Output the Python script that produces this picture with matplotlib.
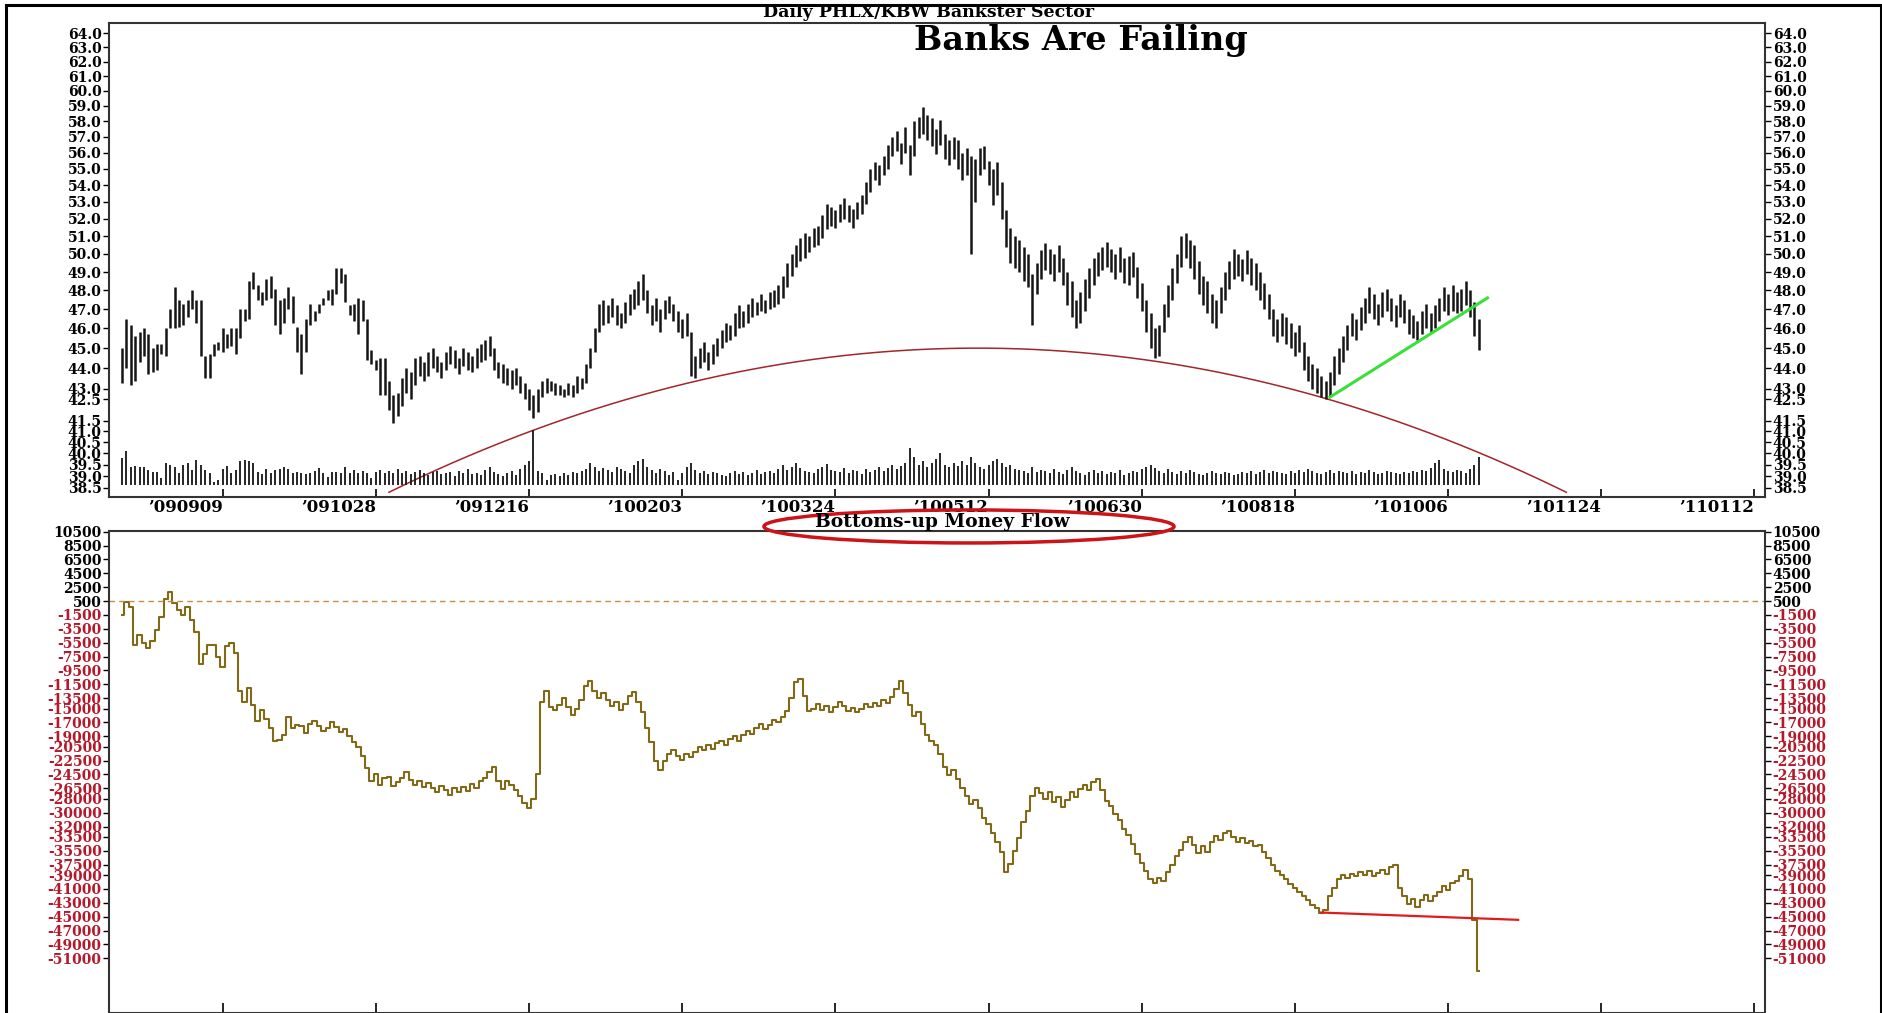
import numpy as np
import pandas as pd
import matplotlib.pyplot as plt
import matplotlib.ticker as mticker
from matplotlib.patches import Ellipse, Rectangle

plt.rcParams['font.family'] = 'DejaVu Serif'
plt.rcParams['font.weight'] = 'bold'

# ---- data (one bar per weekday) ----
first_day = '2009-08-07'
origin_day = '2009-09-09'

highs = [
    45.0, 46.5, 46.2, 45.6, 45.8, 46.0, 45.7, 45.0, 45.2, 45.2,
    46.0, 47.0, 48.2, 47.5, 47.3, 47.5, 48.0, 47.5, 47.5, 44.6,
    44.7, 45.2, 45.3, 46.0, 45.7, 46.0, 46.0, 47.0, 47.0, 48.5,
    49.0, 48.3, 47.9, 48.6, 48.8, 48.1, 47.5, 47.6, 48.2, 47.7,
    46.1, 45.7, 46.5, 47.3, 46.9, 47.3, 47.6, 48.0, 48.1, 49.2,
    49.2, 48.9, 47.2, 47.3, 47.6, 47.5, 46.5, 44.9, 44.4, 44.5,
    44.5, 43.4, 42.7, 42.8,
    43.5, 44.0, 43.8, 44.5, 44.6, 44.3, 44.8, 45.0, 44.6, 44.3,
    44.8, 45.1, 44.9, 44.5, 45.0, 44.8, 44.6, 45.0, 45.2, 45.4,
    45.6, 45.0, 44.3, 44.2, 44.0, 43.9, 44.0, 43.6, 43.3, 43.0,
    42.7, 43.0, 43.4, 43.5, 43.4, 43.3, 43.2, 43.0, 43.3, 43.2,
    43.6, 43.5, 44.2, 45.0, 46.0, 47.3, 47.5, 47.2, 47.6, 47.2,
    46.8, 47.4, 47.8, 48.1, 48.5, 48.9, 48.0, 47.2, 47.6, 47.0,
    47.5, 47.7, 47.3, 46.9, 46.5, 46.8, 45.8, 44.6, 45.0, 45.3,
    44.8, 45.2, 45.5, 45.9, 46.3, 46.2, 46.8, 47.2, 46.9, 47.3,
    47.6, 47.4, 47.8, 47.5, 47.9, 48.0, 48.3, 48.8, 49.5, 50.0,
    50.5, 50.9, 51.2, 51.0, 51.5, 51.6, 52.2, 52.9, 52.7, 52.5,
    52.9, 53.2, 52.8, 52.6, 53.0, 53.4, 54.2, 55.0, 55.4, 55.2,
    55.8, 56.5, 57.0, 57.4, 56.6, 57.6, 56.5, 58.0, 58.3, 58.9,
    58.4, 58.2, 57.5, 58.1, 57.2, 56.8, 57.0, 56.8, 56.0, 56.3,
    55.8, 55.6, 56.3, 56.4, 55.5, 55.0, 55.4, 54.2, 52.5, 51.5,
    51.0, 50.8, 50.4, 50.0, 48.9, 49.5, 50.2, 50.6, 50.3, 50.0,
    50.5, 49.8, 49.0, 48.5, 47.5, 47.9, 48.6, 49.2, 49.8, 50.1,
    50.4, 50.7, 50.3, 50.0, 50.4, 49.8, 49.9, 50.1, 49.3, 48.4,
    47.5, 46.8, 46.0, 46.2, 47.3, 48.3, 49.2, 50.0, 51.0, 51.2,
    50.8, 50.5, 49.6, 48.8, 48.5, 47.8, 47.5, 48.2, 49.0, 49.6,
    50.3, 50.0, 49.7, 50.2, 49.8, 49.5, 49.0, 48.4, 47.8, 47.0,
    46.5, 46.8, 46.6, 46.3, 45.8, 46.2, 45.3, 44.6, 44.2, 44.0,
    43.6, 43.4, 43.8, 44.6, 45.0, 45.6, 46.2, 46.8, 46.5, 47.1,
    47.6, 48.2, 47.8, 47.3, 47.9, 48.1, 47.6, 47.2, 47.8, 47.5,
    47.0, 46.7, 46.4, 46.9, 47.3, 46.8, 47.2, 47.6, 48.2, 47.8,
    48.3, 47.9, 48.1, 48.5, 48.0, 47.4, 46.5,
]

lows = [
    43.3, 44.0, 43.2, 43.4, 44.3, 44.6, 43.7, 43.8, 43.9, 44.7,
    44.6, 46.0, 46.0, 46.1, 46.2, 46.6, 47.0, 46.3, 44.6, 43.5,
    43.5, 44.6, 44.9, 44.8, 45.0, 45.1, 44.7, 45.5, 46.4, 46.5,
    48.1, 47.5, 47.2, 47.5, 47.6, 46.2, 45.7, 46.3, 47.0, 46.3,
    44.8, 43.7, 44.8, 46.2, 46.4, 46.8, 47.2, 47.5, 47.2, 47.8,
    48.4, 47.4, 46.7, 46.4, 45.7, 46.4, 44.4, 44.2, 43.9, 42.7,
    42.7, 42.0, 41.4, 41.7,
    42.2, 42.8, 42.5, 43.2, 43.6, 43.4, 43.6, 44.0, 43.8, 43.5,
    43.9, 44.2, 44.0, 43.7, 44.1, 43.9, 43.8, 44.0, 44.3, 44.4,
    44.6, 43.9, 43.5, 43.3, 43.2, 43.0, 43.2, 42.8, 42.5, 42.0,
    41.6, 41.9, 42.6, 42.8, 42.9, 42.7, 42.7, 42.6, 42.7, 42.6,
    42.8, 43.0, 43.3, 44.0, 44.8, 45.8, 46.2, 46.3, 46.6, 46.2,
    46.0, 46.3, 46.7, 47.0, 47.2, 47.5, 46.8, 46.2, 46.4, 45.8,
    46.5, 46.8, 46.4, 45.8, 45.5, 45.6, 43.6, 43.5, 44.0, 44.3,
    43.9, 44.2, 44.6, 45.0, 45.3, 45.4, 45.6, 46.0, 46.1, 46.3,
    46.6, 46.7, 46.9, 46.8, 47.0, 47.1, 47.3, 47.6, 48.2, 48.8,
    49.3, 49.6, 49.8, 50.1, 50.4, 50.5, 50.9, 51.4, 51.6, 51.5,
    51.8, 52.0, 51.8, 51.5, 52.0, 52.3, 52.9, 53.6, 54.3, 54.0,
    54.6, 55.0, 55.8, 56.1, 55.3, 56.0, 54.6, 55.8, 56.9, 57.2,
    56.8, 56.4, 55.9, 56.5, 55.6, 55.2, 55.6, 55.0, 54.3, 54.6,
    50.0, 53.0, 54.6, 55.0, 54.0, 52.8, 53.4, 52.0, 50.4, 49.5,
    49.2, 49.0, 48.5, 48.2, 46.2, 47.8, 48.6, 49.1, 48.9, 48.5,
    49.0, 48.3, 47.2, 46.6, 46.0, 46.3, 46.9, 47.6, 48.3, 48.8,
    49.1, 49.3, 49.0, 48.6, 49.0, 48.4, 48.3, 48.7, 47.6, 46.9,
    45.8, 45.0, 44.5, 44.6, 45.8, 46.6, 47.5, 48.4, 49.3, 49.8,
    49.2, 48.6, 47.8, 47.2, 46.8, 46.3, 46.0, 46.8, 47.5, 48.1,
    48.6, 48.8, 48.5, 48.9, 48.3, 48.0, 47.5, 47.0, 46.5, 45.6,
    45.3, 45.6, 45.2, 45.0, 44.6, 44.8, 43.9, 43.4, 43.0, 42.8,
    42.6, 42.5, 42.6, 43.2, 43.7, 44.3, 44.9, 45.6, 45.4, 45.9,
    46.3, 46.8, 46.5, 46.2, 46.6, 46.9, 46.4, 46.1, 46.6, 46.3,
    45.7, 45.5, 45.4, 45.7, 46.0, 45.8, 46.0, 46.4, 46.9, 46.7,
    46.9, 46.8, 46.9, 47.2, 46.6, 45.6, 44.9,
]

volume = [
    27, 34, 18, 19, 18, 18, 15, 13, 13, 7,
    22, 20, 18, 12, 20, 22, 15, 25, 20, 15,
    12, 3, 5, 16, 19, 12, 15, 24, 25, 24,
    22, 13, 11, 16, 12, 15, 16, 18, 16, 12,
    13, 12, 11, 12, 14, 17, 12, 8, 13, 13,
    12, 18, 12, 15, 12, 14, 12, 7, 13, 15,
    12, 14, 12, 16,
    12, 14, 11, 13, 15, 12, 10, 13, 14, 11,
    12, 13, 9, 14, 12, 16, 11, 12, 10, 15,
    18, 13, 11, 9, 12, 14, 10, 16, 20, 24,
    55, 14, 12, 5, 10, 11, 9, 12, 10, 13,
    12, 14, 16, 22, 18, 14, 17, 15, 13, 18,
    16, 14, 12, 20, 24, 26, 18, 15, 12, 16,
    14, 10, 13, 5, 12, 18, 22, 15, 12, 14,
    11, 13, 12, 10, 9, 12, 14, 11, 13, 10,
    12, 15, 11, 13, 14, 12, 16, 20, 15, 18,
    22, 17, 14, 13, 12, 16, 18, 21, 15, 14,
    13, 17, 12, 15, 14, 11, 16, 13, 15, 18,
    14, 17, 20, 16, 19, 22, 37, 28, 20, 24,
    18, 22, 26, 32, 20, 18, 22, 19, 24, 20,
    28, 22, 18, 16, 20, 24, 26, 22, 18, 20,
    16, 15, 14, 12, 18, 13, 15, 14, 12, 16,
    13, 11, 15, 18, 14, 12, 10, 13, 15, 12,
    14, 11, 13, 12, 15, 10, 12, 14, 13, 16,
    18, 20, 17, 14, 12, 16, 13, 11, 14, 12,
    15, 13, 11, 10, 12, 14, 12, 11, 13, 12,
    10, 11, 13, 12, 14, 11, 13, 15, 12, 14,
    13, 12, 11, 14, 12, 15, 13, 16, 14, 12,
    11, 13, 15, 12, 14, 13, 12, 14, 11, 13,
    12, 15, 13, 11, 12, 14, 13, 12, 11, 13,
    12, 14, 13, 15, 14, 17, 22, 25, 16, 14,
    13, 15, 14, 12, 16, 20, 28,
]

money_flow = [
    -1500, 300, -300, -5800, -4400, -5600, -6200, -5200, -3600, -1800,
    800, 1800, 200, -800, -1500, -300, -2200, -4000, -8500, -7200,
    -5900, -5800, -7500, -9000, -6000, -5600, -7000, -12500, -14000, -12000,
    -14500, -16800, -15200, -16500, -17800, -19600, -19500, -18800, -16200, -17800,
    -17300, -17500, -18500, -17200, -16800, -17500, -18200, -17800, -17000, -17600,
    -18400, -18000, -19000, -19800, -20500, -21800, -23500, -25500, -24500, -26000,
    -25000, -24800, -26200, -25600, -25000, -24200, -25300, -26000, -25400, -26300,
    -25700, -26400, -27000, -26200, -26800, -27400, -26500, -27000, -26300, -26900,
    -25900, -26400, -25500, -25000, -24200, -23400, -25500, -26600, -25400, -26000,
    -26800, -27600, -28600, -29300, -28000, -24500, -14000, -12500, -14800, -15200,
    -14500, -13500, -14800, -15900, -15000, -13800, -11800, -11000, -12500, -13500,
    -12800, -13800, -14600, -14000, -15200, -14400, -13200, -12600, -14000, -15500,
    -17800, -19800, -22500, -23800, -22600, -21600, -21000, -21800, -22400, -21600,
    -22000, -21200, -20600, -21000, -20200, -20800, -20000, -19600, -20200, -19400,
    -19000, -19600, -18800, -18200, -18700, -17800, -17200, -17900, -17300, -16600,
    -17000, -16200, -15400, -13500, -11200, -10700, -13200, -15300, -15000, -14300,
    -15200, -14600, -15500, -14800, -14000, -14600, -15300, -14900, -15500, -15000,
    -14400, -14800, -14200, -14600, -13800, -14200, -13400, -12200, -11000, -12800,
    -14500, -16000, -15500, -17200, -18800, -19600, -20200, -21500, -23400, -24600,
    -23800, -25200, -26500, -27600, -28800, -28200, -29400, -30800, -31600, -33000,
    -34200, -35600, -38500, -37400, -35500, -33600, -31400, -29800, -27600, -26400,
    -27200, -28000, -27000, -28400, -27800, -29200, -28200, -27000, -27800, -26600,
    -26000, -26800, -25600, -25200, -26800, -28300, -29000, -30200, -31000, -32400,
    -33200, -34500, -36000, -37200, -38400, -39500, -40200, -39400, -39800, -38600,
    -37500, -36200, -35400, -34300, -33500, -34600, -35800, -34800, -35600, -34200,
    -33400, -33900, -33000, -32600, -33500, -34200, -33600, -34400, -34100, -34800,
    -34600, -35600, -36500, -37600, -38400, -39000, -39600, -40300, -40800, -41400,
    -42000, -42600, -43300, -43800, -44400, -44000, -42000, -40800, -39600, -39000,
    -39400, -38800, -39200, -38600, -39000, -38400, -39200, -38700, -38300, -38900,
    -37900, -37600, -40800, -42000, -43200, -42400, -43600, -42600, -41800, -42800,
    -42000, -41400, -40600, -41200, -40200, -39800, -39200, -38200, -39600, -45500,
    -52800,
]

date_ticks = ['090909', '091028', '091216', '100203', '100324', '100512',
              '100630', '100818', '101006', '101124', '110112']
price_ticks = [64.0, 63.0, 62.0, 61.0, 60.0, 59.0, 58.0, 57.0, 56.0, 55.0,
               54.0, 53.0, 52.0, 51.0, 50.0, 49.0, 48.0, 47.0, 46.0, 45.0,
               44.0, 43.0, 42.5, 41.5, 41.0, 40.5, 40.0, 39.5, 39.0, 38.5]
flow_ticks = [10500, 8500, 6500, 4500, 2500, 500, -1500, -3500, -5500, -7500,
              -9500, -11500, -13500, -15000, -17000, -19000, -20500, -22500,
              -24500, -26500, -28000, -30000, -32000, -33500, -35500, -37500,
              -39000, -41000, -43000, -45000, -47000, -49000, -51000]

# hand-drawn annotations
arc_dates = ['2009-11-02', '2010-05-07', '2010-11-12']
arc_prices = [38.3, 45.0, 38.3]
trend_dates = ['2010-08-30', '2010-10-19']
trend_prices = [42.6, 47.6]
support_dates = ['2010-08-26', '2010-10-28']
support_flow = [-44400, -45450]
flow_ref = 500

assert len(highs) == len(lows) == len(volume) == len(money_flow)


def bday(d):
    d = np.asarray(pd.to_datetime(d).values.astype('datetime64[D]'))
    return np.busday_count(np.datetime64(origin_day), d)


x = bday(pd.bdate_range(first_day, periods=len(highs)))
tick_x = bday(pd.to_datetime(date_ticks, format='%y%m%d'))

fig = plt.figure(figsize=(18.83, 10.13), dpi=100)
ax = fig.add_axes([0.05805, 0.50967, 0.87928, 0.46792])
axv = fig.add_axes([0.05805, 0.50967, 0.87928, 0.46792], sharex=ax)
ax2 = fig.add_axes([0.05805, 0.0, 0.87928, 0.47581], sharex=ax)

# --- price panel ---
ax.set_yscale('log')
ax.vlines(x, lows, highs, color='#151515', lw=1.8, zorder=3)

ax_i = bday(arc_dates)
coef = np.polyfit(ax_i, np.log(arc_prices), 2)
arc_x = np.linspace(ax_i[0], ax_i[-1], 300)
ax.plot(arc_x, np.exp(np.polyval(coef, arc_x)), color='#a3262a', lw=1.1, zorder=2)
ax.plot(bday(trend_dates), trend_prices, color='#39e039', lw=2.2, zorder=4)

ax.set_xlim(-25.9, 352.4)
ax.set_ylim(38.11, 64.76)
ax.set_yticks(price_ticks, labels=[f'{t:.1f}' for t in price_ticks])
ax.yaxis.set_minor_locator(mticker.NullLocator())
ax.set_xticks(tick_x, labels=['\u2019' + d for d in date_ticks])
for lbl in ax.get_xticklabels():
    lbl.set_horizontalalignment('right')
ax.tick_params(axis='y', which='both', left=True, right=True, labelleft=True,
               labelright=True, direction='out', length=4.5, width=1, pad=1,
               labelsize=10)
ax.tick_params(axis='x', direction='in', length=6, width=1.2, pad=1.5, labelsize=12)
for s in ax.spines.values():
    s.set_linewidth(1.5)
    s.set_color('#333333')

# volume inside the price panel
axv.vlines(x, 0, volume, color='#151515', lw=1.3)
axv.set_ylim(-11.7, 462.3)
axv.set_axis_off()

ax.text(0.587, 0.997, 'Banks Are Failing', transform=ax.transAxes,
        ha='center', va='top', fontsize=24)
fig.text(0.493, 0.9875, 'Daily PHLX/KBW Bankster Sector', ha='center',
         va='center', fontsize=12.5)

# --- money flow panel ---
ax2.plot(x, money_flow, drawstyle='steps-mid', color='#806a18', lw=1.5)
ax2.axhline(flow_ref, color='#c98a4c', lw=1.0, ls=(0, (4, 3)))
ax2.plot(bday(support_dates), support_flow, color='#e01b1b', lw=1.6)
ax2.set_ylim(-58880, 10600)
ax2.set_yticks(flow_ticks, labels=[str(t) for t in flow_ticks])
ax2.tick_params(axis='y', left=True, right=True, labelleft=True, labelright=True,
                direction='out', length=4.5, width=1, pad=1, labelsize=10)
ax2.tick_params(axis='x', direction='in', length=7, width=1.2, labelbottom=False)
for t, v in zip(ax2.yaxis.get_major_ticks(), flow_ticks):
    c = '#b5182a' if v < 0 else 'black'
    t.label1.set_color(c)
    t.label2.set_color(c)
for s in ax2.spines.values():
    s.set_linewidth(1.5)
    s.set_color('#333333')

fig.text(0.5003, 0.4845, 'Bottoms-up Money Flow', ha='center', va='center',
         fontsize=13.5)
fig.patches.append(Ellipse((0.5146, 0.4803), 0.2178, 0.0326, fill=False,
                           ec='#cc1418', lw=2.5, transform=fig.transFigure))
fig.patches.append(Rectangle((0.0032, -0.01), 0.9957, 1.0051, fill=False,
                             ec='black', lw=2.2, transform=fig.transFigure))

fig.savefig('out.png', dpi=100)
